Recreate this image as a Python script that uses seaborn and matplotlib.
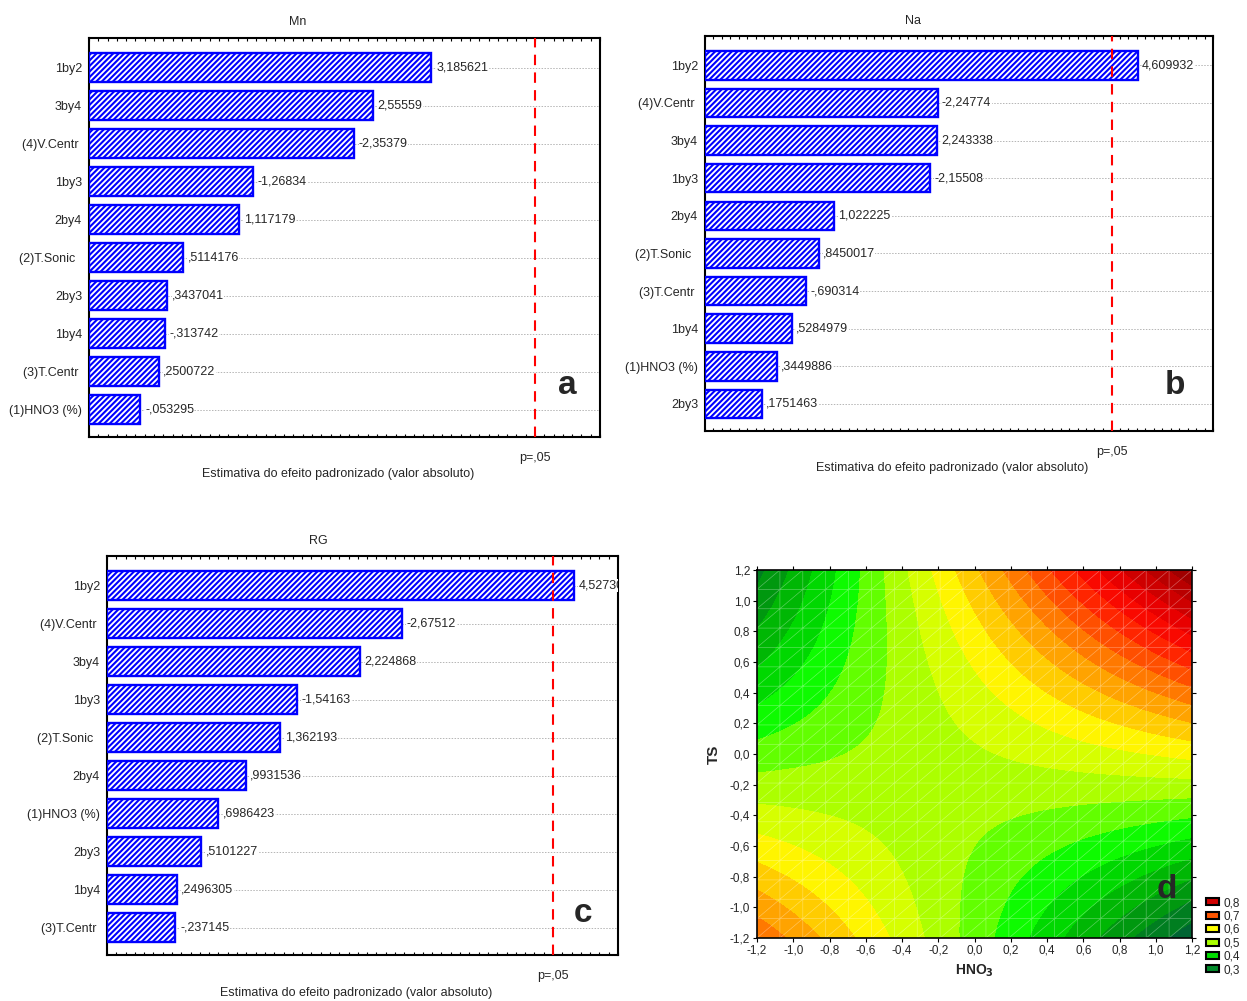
import numpy as np
import pandas as pd
import matplotlib
matplotlib.use("Agg")
import matplotlib.pyplot as plt
import matplotlib.tri as mtri
import seaborn as sns
from matplotlib.colors import LinearSegmentedColormap, Normalize
from matplotlib.patches import Patch
from matplotlib.ticker import MultipleLocator, FuncFormatter

# ---------------- data ----------------
mn_terms = ["1by2", "3by4", "(4)V.Centr ", "1by3", "2by4", "(2)T.Sonic  ",
            "2by3", "1by4", "(3)T.Centr ", "(1)HNO3 (%)"]
mn_effects = [3.185621, 2.55559, -2.35379, -1.26834, 1.117179, 0.5114176,
              0.3437041, -0.313742, 0.2500722, -0.053295]

na_terms = ["1by2", "(4)V.Centr ", "3by4", "1by3", "2by4", "(2)T.Sonic  ",
            "(3)T.Centr ", "1by4", "(1)HNO3 (%)", "2by3"]
na_effects = [4.609932, -2.24774, 2.243338, -2.15508, 1.022225, 0.8450017,
              -0.690314, 0.5284979, 0.3449886, 0.1751463]

rg_terms = ["1by2", "(4)V.Centr ", "3by4", "1by3", "(2)T.Sonic  ", "2by4",
            "(1)HNO3 (%)", "2by3", "1by4", "(3)T.Centr "]
rg_effects = [4.527302, -2.67512, 2.224868, -1.54163, 1.362193, 0.9931536,
              0.6986423, 0.5101227, 0.2496305, -0.237145]

t_crit = 4.302653           # p = .05
p_label = "p=,05"
x_label = "Estimativa do efeito padronizado (valor absoluto)"

# response surface (panel d):
# z = b0 + b1*HNO3 + b2*TS + b12*HNO3*TS + b11*HNO3^2 + b22*TS^2
surf_coef = {"b0": 0.51, "b1": 0.042, "b2": 0.062, "b12": 0.1875,
             "b11": 0.0, "b22": 0.02}
legend_levels = [0.8, 0.7, 0.6, 0.5, 0.4, 0.3]
legend_colors = ["#d00000", "#ff5500", "#ffff00", "#aaff00", "#00dd00", "#008a2a"]
axis_ticks = [-1.2, -1.0, -0.8, -0.6, -0.4, -0.2, 0.0, 0.2, 0.4, 0.6, 0.8, 1.0, 1.2]

# ---------------- style ----------------
sns.set_style("white")
plt.rcParams["font.family"] = ["Liberation Sans", "DejaVu Sans"]
plt.rcParams["hatch.linewidth"] = 1.5

W, H = 1247, 1001
fig = plt.figure(figsize=(W / 100, H / 100), dpi=100)


def fx(px):
    return px / W


def fy(py):
    return 1 - py / H


def box(l, t, r, b):
    return [fx(l), fy(b), (r - l) / W, (b - t) / H]


def fmt(v):
    s = "{:.7g}".format(v)
    if s.startswith("0."):
        s = s[1:]
    elif s.startswith("-0."):
        s = "-" + s[2:]
    return s.replace(".", ",")


def pareto(rect, terms, effects, xmin, xmax, title, title_xy, letter, letter_xy,
           xlabel_xy):
    ax = fig.add_axes(rect)
    df = pd.DataFrame({"term": terms, "abs": np.abs(effects)})
    sns.barplot(data=df, x="abs", y="term", order=terms, orient="h", ax=ax,
                color="white", saturation=1, edgecolor="#0000ff", linewidth=1.7,
                hatch="//////", width=0.76, zorder=3)
    for p in ax.patches:
        end = p.get_x() + p.get_width()
        p.set_x(xmin)
        p.set_width(end - xmin)
    for i, v in enumerate(effects):
        ax.text(abs(v) + 0.05, i, fmt(v), va="center", ha="left", fontsize=9,
                bbox=dict(fc="white", ec="none", pad=0.2), clip_on=True, zorder=4)
    ax.axvline(t_crit, color="#ff0000", ls=(0, (5, 3.5)), lw=1.5, zorder=5)
    ax.set_xlim(xmin, xmax)
    ax.set_ylim(len(terms) - 1 + 0.72, -0.78)
    ax.grid(axis="y", color="#b5b5b5", ls=(0, (1.5, 1.5)), lw=0.7)
    ax.grid(axis="x", visible=False)
    ax.set_axisbelow(True)
    ax.set_xticks([t_crit])
    ax.set_xticklabels([p_label])
    ax.xaxis.set_minor_locator(MultipleLocator(0.1))
    ax.tick_params(axis="x", which="major", length=0, pad=11, labelsize=9)
    ax.tick_params(axis="x", which="minor", direction="in", top=True, bottom=True,
                   length=2.5, width=0.8, color="black")
    ax.tick_params(axis="y", length=0, pad=5, labelsize=9)
    ax.set_xlabel("")
    ax.set_ylabel("")
    for s in ax.spines.values():
        s.set_visible(True)
        s.set_color("black")
        s.set_linewidth(1.5)
    fig.text(fx(title_xy[0]), fy(title_xy[1]), title, ha="center", va="center", fontsize=9)
    fig.text(fx(xlabel_xy[0]), fy(xlabel_xy[1]), x_label, ha="center", va="center", fontsize=9)
    fig.text(fx(letter_xy[0]), fy(letter_xy[1]), letter, ha="center", va="center",
             fontsize=24, fontweight="bold")
    return ax


pareto(box(89, 38, 600, 437), mn_terms, mn_effects, -0.5, 5.0, "Mn", (298, 22),
       "a", (567, 386), (338, 474))
pareto(box(705, 36, 1213, 431), na_terms, na_effects, -0.5, 5.5, "Na", (913, 21),
       "b", (1175, 386), (952, 468))
pareto(box(107, 556, 618, 955), rg_terms, rg_effects, -0.5, 5.0, "RG", (318, 541),
       "c", (583, 914), (356, 993))

# ---------------- panel d: contour ----------------
axd = fig.add_axes(box(757, 570, 1192, 938))
xs = np.linspace(-1.2, 1.2, 241)
X, Y = np.meshgrid(xs, xs)
c = surf_coef
Z = (c["b0"] + c["b1"] * X + c["b2"] * Y + c["b12"] * X * Y
     + c["b11"] * X ** 2 + c["b22"] * Y ** 2)

zlo, zhi = 0.22, 0.96
stops = [(0.22, "#00503e"), (0.25, "#006434"), (0.28, "#007a24"), (0.31, "#008e14"),
         (0.34, "#00a808"), (0.37, "#00c400"), (0.40, "#00e000"), (0.43, "#10ff00"),
         (0.46, "#60ff00"), (0.49, "#a0ff00"), (0.515, "#c4ff00"), (0.54, "#dcff00"),
         (0.56, "#ffff00"), (0.60, "#ffd000"),
         (0.64, "#ffa000"), (0.68, "#ff7000"), (0.72, "#ff4000"), (0.76, "#ff1000"),
         (0.80, "#f00000"), (0.84, "#d40000"), (0.88, "#bc0000"), (0.92, "#a00000"),
         (0.96, "#800000")]
cmap = LinearSegmentedColormap.from_list(
    "statistica", [((v - zlo) / (zhi - zlo), col) for v, col in stops])
norm = Normalize(zlo, zhi)
levels = np.arange(0.2, 1.0, 0.035)
axd.contourf(X, Y, Z, levels=levels, cmap=cmap, norm=norm)

# faint triangulated mesh (as in the original rendering)
mx = np.linspace(-1.2, 1.2, 20)
MX, MY = np.meshgrid(mx, mx)
n = len(mx)
tris = []
for j in range(n - 1):
    for i in range(n - 1):
        a = j * n + i
        tris.append([a, a + 1, a + n + 1])
        tris.append([a, a + n + 1, a + n])
tri = mtri.Triangulation(MX.ravel(), MY.ravel(), np.array(tris))
axd.triplot(tri, color="white", lw=0.5, alpha=0.35)

axd.set_xlim(-1.2, 1.2)
axd.set_ylim(-1.2, 1.2)
comma = FuncFormatter(lambda v, p: "{:.1f}".format(round(v, 1) + 0.0).replace(".", ","))
axd.set_xticks(axis_ticks)
axd.set_yticks(axis_ticks)
axd.xaxis.set_major_formatter(comma)
axd.yaxis.set_major_formatter(comma)
axd.tick_params(axis="both", direction="out", length=3, width=0.8, labelsize=8.5,
                pad=2, bottom=True, left=True, top=True, right=True, color="black")
axd.set_xlabel(r"HNO$_\mathbf{3}$", fontsize=10, fontweight="bold", labelpad=4)
axd.set_ylabel("TS", fontsize=11, fontweight="bold", labelpad=6)
for s in axd.spines.values():
    s.set_visible(True)
    s.set_color("black")
    s.set_linewidth(1.2)
fig.text(fx(1167), fy(889), "d", ha="center", va="center", fontsize=24, fontweight="bold")

handles = [Patch(facecolor=col, edgecolor="black", linewidth=1.5,
                 label="{:.1f}".format(v).replace(".", ","))
           for v, col in zip(legend_levels, legend_colors)]
fig.legend(handles=handles, loc="upper left", bbox_to_anchor=(fx(1206), fy(897)),
           bbox_transform=fig.transFigure, frameon=False, fontsize=8.5,
           handlelength=1.1, handleheight=0.55, labelspacing=0.12,
           handletextpad=0.4, borderpad=0, borderaxespad=0)

fig.savefig("out.png", dpi=100)
